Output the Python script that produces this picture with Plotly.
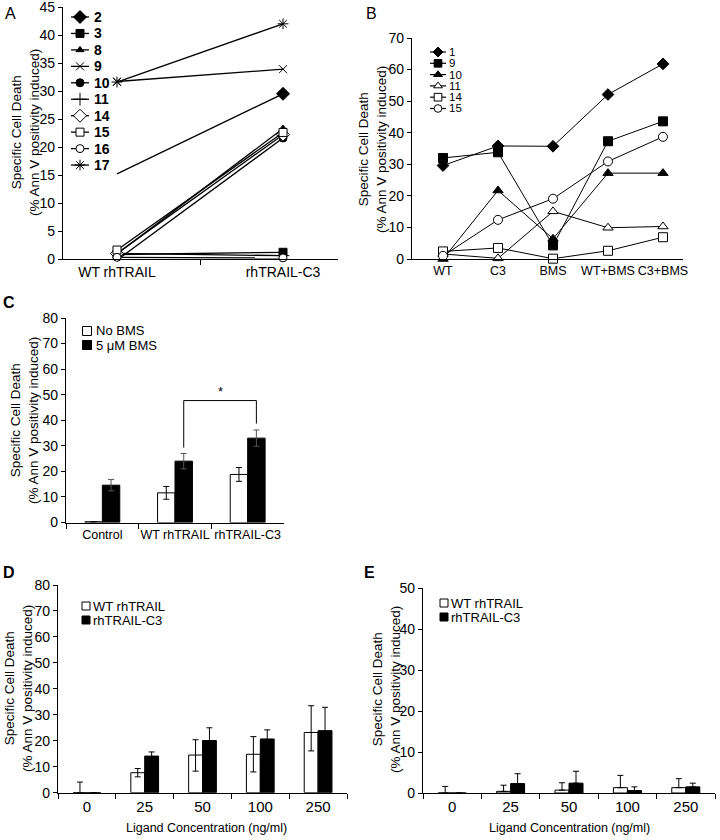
import plotly.graph_objects as go

FONT = "Liberation Sans, Arial, sans-serif"

# ---------------- Panel A data ----------------
a_categories = ["WT rhTRAIL", "rhTRAIL-C3"]
a_names = ["2", "3", "8", "9", "10", "11", "14", "15", "16", "17"]
a_2 = [15.2, 29.5]
a_3 = [0.8, 1.2]
a_8 = [0.9, 23.3]
a_9 = [31.7, 33.9]
a_10 = [-0.2, 21.6]
a_11 = [1.0, 0.6]
a_14 = [1.0, 22.2]
a_15 = [1.6, 22.6]
a_16 = [0.3, 0.2]
a_17 = [31.6, 42.0]
a_values = [a_2, a_3, a_8, a_9, a_10, a_11, a_14, a_15, a_16, a_17]

# ---------------- Panel B data ----------------
b_categories = ["WT", "C3", "BMS", "WT+BMS", "C3+BMS"]
b_names = ["1", "9", "10", "11", "14", "15"]
b_1 = [29.6, 35.8, 35.7, 52.1, 61.8]
b_9 = [32.0, 33.8, 4.3, 37.3, 43.6]
b_10 = [0.0, 21.7, 6.4, 27.2, 27.2]
b_11 = [1.6, 0.2, 15.1, 9.9, 10.3]
b_14 = [2.4, 3.5, 0.1, 2.6, 6.9]
b_15 = [1.0, 12.4, 19.1, 30.9, 38.7]
b_values = [b_1, b_9, b_10, b_11, b_14, b_15]

# ---------------- Panel C data ----------------
c_categories = ["Control", "WT rhTRAIL", "rhTRAIL-C3"]
c_series = ["No BMS", "5 μM BMS"]
c_no_bms = [0.3, 11.6, 18.8]
c_no_bms_err = [0.0, 2.5, 2.7]
c_bms = [14.6, 24.0, 33.0]
c_bms_err = [2.2, 3.0, 3.2]

# ---------------- Panel D data ----------------
d_categories = ["0", "25", "50", "100", "250"]
de_series = ["WT rhTRAIL", "rhTRAIL-C3"]
d_wt = [0.0, 7.7, 14.5, 14.8, 23.2]
d_wt_err_plus = [4.1, 1.6, 5.9, 6.8, 10.3]
d_wt_err_minus = [0.0, 1.6, 6.2, 6.8, 7.1]
d_c3 = [0.0, 14.1, 20.1, 20.7, 23.9]
d_c3_err = [0.0, 1.6, 4.9, 3.5, 9.0]

# ---------------- Panel E data ----------------
e_categories = ["0", "25", "50", "100", "250"]
e_wt = [0.0, 0.4, 0.7, 1.3, 1.3]
e_wt_err = [1.6, 1.5, 1.8, 3.0, 2.2]
e_c3 = [0.0, 2.3, 2.4, 0.6, 1.5]
e_c3_err = [0.0, 2.4, 2.9, 0.9, 0.9]

x_title = "Ligand Concentration (ng/ml)"

# ---------------- styles ----------------
a_styles = {
    "2": dict(symbol="diamond", color="black", size=10),
    "3": dict(symbol="square", color="black", size=8),
    "8": dict(symbol="triangle-up", color="black", size=7),
    "9": dict(symbol="x-thin", color="black", size=8),
    "10": dict(symbol="circle", color="black", size=8),
    "11": dict(symbol="cross-thin", color="black", size=9),
    "14": dict(symbol="diamond", color="white", size=10),
    "15": dict(symbol="square", color="white", size=8),
    "16": dict(symbol="circle", color="white", size=8),
    "17": dict(symbol="asterisk", color="black", size=9),
}
# series 2 has no visible marker at the first category
a_marker_hidden = {"2": [True, False]}
b_styles = {
    "1": dict(symbol="diamond", color="black", size=9),
    "9": dict(symbol="square", color="black", size=9),
    "10": dict(symbol="triangle-up", color="black", size=9),
    "11": dict(symbol="triangle-up", color="white", size=9),
    "14": dict(symbol="square", color="white", size=9),
    "15": dict(symbol="circle", color="white", size=9),
}

fig = go.Figure()

for name, vals in zip(a_names, a_values):
    st = a_styles[name]
    fill = st["color"]
    edge = "black"
    if name in a_marker_hidden:
        fill = ["rgba(0,0,0,0)" if h else st["color"] for h in a_marker_hidden[name]]
        edge = ["rgba(0,0,0,0)" if h else "black" for h in a_marker_hidden[name]]
    fig.add_trace(go.Scatter(
        x=a_categories, y=vals, name=name, mode="lines+markers",
        line=dict(color="black", width=1.3),
        marker=dict(symbol=st["symbol"], color=fill, size=st["size"],
                    line=dict(color=edge, width=1)),
        xaxis="x", yaxis="y", cliponaxis=False,
    ))

for name, vals in zip(b_names, b_values):
    st = b_styles[name]
    fig.add_trace(go.Scatter(
        x=b_categories, y=vals, name=name, mode="lines+markers",
        line=dict(color="black", width=1),
        marker=dict(symbol=st["symbol"], color=st["color"], size=st["size"],
                    line=dict(color="black", width=1)),
        xaxis="x2", yaxis="y2", cliponaxis=False,
    ))

# Panel C bars
fig.add_trace(go.Bar(
    x=c_categories, y=c_no_bms, name=c_series[0],
    marker=dict(color="white", line=dict(color="black", width=1)),
    error_y=dict(type="data", array=c_no_bms_err, color="black", thickness=1, width=3),
    xaxis="x3", yaxis="y3",
))
fig.add_trace(go.Bar(
    x=c_categories, y=c_bms, name=c_series[1],
    marker=dict(color="black", line=dict(color="black", width=1)),
    error_y=dict(type="data", array=c_bms_err, color="#555555", thickness=1, width=3),
    xaxis="x3", yaxis="y3",
))

# Panel D bars
fig.add_trace(go.Bar(
    x=d_categories, y=d_wt, name=de_series[0],
    marker=dict(color="white", line=dict(color="black", width=1)),
    error_y=dict(type="data", symmetric=False, array=d_wt_err_plus, arrayminus=d_wt_err_minus,
                 color="black", thickness=1, width=3),
    xaxis="x4", yaxis="y4", cliponaxis=False,
))
fig.add_trace(go.Bar(
    x=d_categories, y=d_c3, name=de_series[1],
    marker=dict(color="black", line=dict(color="black", width=1)),
    error_y=dict(type="data", array=d_c3_err, color="black", thickness=1, width=3),
    xaxis="x4", yaxis="y4", cliponaxis=False,
))

# Panel E bars
fig.add_trace(go.Bar(
    x=e_categories, y=e_wt, name=de_series[0],
    marker=dict(color="white", line=dict(color="black", width=1)),
    error_y=dict(type="data", symmetric=False, array=e_wt_err, arrayminus=[0] * len(e_wt_err),
                 color="black", thickness=1, width=3),
    xaxis="x5", yaxis="y5", cliponaxis=False,
))
fig.add_trace(go.Bar(
    x=e_categories, y=e_c3, name=de_series[1],
    marker=dict(color="black", line=dict(color="black", width=1)),
    error_y=dict(type="data", symmetric=False, array=e_c3_err, arrayminus=[0] * len(e_c3_err),
                 color="black", thickness=1, width=3),
    xaxis="x5", yaxis="y5", cliponaxis=False,
))

W, H = 720, 840


def px(x):
    return x / W


def py(y):
    return 1 - y / H


annotations = []

# ---------------- compact legends (drawn on a full-page pixel overlay axis) ----------------
def line_legend(names, styles, x0, x1, xtext, ytop, step, fsize, weight, lw, msize_scale=1.0):
    for i, name in enumerate(names):
        st = styles[name]
        yy = ytop + i * step
        fig.add_trace(go.Scatter(x=[x0, x1], y=[yy, yy], mode="lines",
                                 line=dict(color="black", width=lw), xaxis="x6", yaxis="y6",
                                 hoverinfo="skip", cliponaxis=False))
        fig.add_trace(go.Scatter(x=[(x0 + x1) / 2], y=[yy], mode="markers",
                                 marker=dict(symbol=st["symbol"], color=st["color"],
                                             size=st["size"] * msize_scale,
                                             line=dict(color="black", width=1)),
                                 xaxis="x6", yaxis="y6", hoverinfo="skip", cliponaxis=False))
        annotations.append(dict(text=name, x=px(xtext), y=py(yy), xref="paper", yref="paper",
                                xanchor="left", yanchor="middle", showarrow=False,
                                font=dict(family=FONT, size=fsize, color="black", weight=weight)))


def bar_legend(names, xsq, xtext, ytop, step, sqsize):
    fills = ["white", "black"]
    for i, name in enumerate(names):
        yy = ytop + i * step
        fig.add_trace(go.Scatter(x=[xsq], y=[yy], mode="markers",
                                 marker=dict(symbol="square", color=fills[i], size=sqsize,
                                             line=dict(color="black", width=1)),
                                 xaxis="x6", yaxis="y6", hoverinfo="skip", cliponaxis=False))
        annotations.append(dict(text=name, x=px(xtext), y=py(yy), xref="paper", yref="paper",
                                xanchor="left", yanchor="middle", showarrow=False,
                                font=dict(family=FONT, size=13, color="black")))


line_legend(a_names, a_styles, 71, 89, 92, 17, 16.45, 14, "bold", 1.3)
line_legend(b_names, b_styles, 430, 446, 447, 52, 11.3, 11.5, "normal", 1.2, 0.85)
bar_legend(c_series, 87, 94, 331, 14, 9)
bar_legend(de_series, 86, 91, 606, 14, 8)
bar_legend(de_series, 444, 449, 603, 14, 8)

tickfont = dict(family=FONT, size=14, color="black")
common_y = dict(showline=True, linecolor="black", linewidth=1.2, ticks="outside", ticklen=4,
                tickcolor="black", tickwidth=1, showgrid=False, zeroline=False,
                tickfont=tickfont, fixedrange=True, automargin=False,
                ticklabeloverflow="allow")
common_x = dict(showline=True, linecolor="black", linewidth=1.2, showgrid=False, zeroline=False,
                tickfont=tickfont, type="category", fixedrange=True, tickangle=0,
                automargin=False, ticklabeloverflow="allow")

fig.update_layout(
    width=W, height=H,
    margin=dict(l=0, r=0, t=0, b=0, pad=0),
    paper_bgcolor="white", plot_bgcolor="rgba(0,0,0,0)",
    font=dict(family=FONT, size=13, color="black"),
    barmode="group",
    bargap=0.52,
    showlegend=False,
    xaxis=dict(common_x, domain=[px(63), px(338)], anchor="y", range=[-0.325, 1.331],
               ticks="outside", tickson="boundaries", ticklen=5, tickcolor="black"),
    yaxis=dict(common_y, domain=[py(259), py(7)], anchor="x", range=[0, 45], dtick=5),
    xaxis2=dict(common_x, domain=[px(412), px(683)], anchor="y2", range=[-0.564, 4.364], ticks="",
                tickfont=dict(family=FONT, size=12.5, color="black")),
    yaxis2=dict(common_y, domain=[py(259), py(38)], anchor="x2", range=[0, 70], dtick=10),
    xaxis3=dict(common_x, domain=[px(66), px(284)], anchor="y3",
                ticks="outside", tickson="boundaries", ticklen=5, tickcolor="black",
                tickfont=dict(family=FONT, size=12.5, color="black")),
    yaxis3=dict(common_y, domain=[py(522.5), py(318)], anchor="x3", range=[0, 80], dtick=10),
    xaxis4=dict(common_x, domain=[px(58), px(347)], anchor="y4",
                ticks="outside", tickson="boundaries", ticklen=5, tickcolor="black",
                tickfont=dict(family=FONT, size=15, color="black")),
    yaxis4=dict(common_y, domain=[py(792.7), py(585)], anchor="x4", range=[0, 80], dtick=10),
    xaxis5=dict(common_x, domain=[px(423), px(715)], anchor="y5",
                ticks="outside", tickson="boundaries", ticklen=5, tickcolor="black",
                tickfont=dict(family=FONT, size=15, color="black")),
    yaxis5=dict(common_y, domain=[py(793), py(588)], anchor="x5", range=[0, 50], dtick=10),
    xaxis6=dict(domain=[0, 1], range=[0, W], visible=False, fixedrange=True, anchor="y6",
                automargin=False),
    yaxis6=dict(domain=[0, 1], range=[H, 0], visible=False, fixedrange=True, anchor="x6",
                automargin=False),
)

# x-axis titles of D and E
for cx in (206, 569):
    annotations.append(dict(text=x_title, x=px(cx), y=py(828), xref="paper", yref="paper",
                            showarrow=False, xanchor="center", yanchor="middle",
                            font=dict(family=FONT, size=12.5, color="black")))

# y-axis titles and panel letters
ytitle = "Specific Cell Death<br>(% Ann V positivity induced)"
for cx, cy in [(25, 133), (372, 150), (24, 421), (18, 689), (386, 690)]:
    annotations.append(dict(text=ytitle, x=px(cx), y=py(cy), xref="paper", yref="paper",
                            textangle=-90, showarrow=False, xanchor="center", yanchor="middle",
                            font=dict(family=FONT, size=13.5, color="black")))
for letter, lx, ly, bold in [("A", 3, 3, "normal"), ("B", 364, 3, "normal"), ("C", 1, 292, "bold"),
                             ("D", 1, 562, "bold"), ("E", 362, 562, "bold")]:
    annotations.append(dict(text=letter, x=px(lx), y=py(ly), xref="paper", yref="paper",
                            showarrow=False, xanchor="left", yanchor="top",
                            font=dict(family=FONT, size=16, color="black", weight=bold)))

# significance bracket in C between WT and C3 (black bars)
bar_w = (1 - 0.52) / 2
x_left = 1 + bar_w / 2
x_right = 2 + bar_w / 2
top = 47.7
left_bottom = c_bms[1] + c_bms_err[1] + 2.3
right_bottom = c_bms[2] + c_bms_err[2] + 2.5
shapes = [
    dict(type="line", xref="x3", yref="y3", x0=x_left, x1=x_left, y0=left_bottom, y1=top,
         line=dict(color="black", width=1)),
    dict(type="line", xref="x3", yref="y3", x0=x_left, x1=x_right, y0=top, y1=top,
         line=dict(color="black", width=1)),
    dict(type="line", xref="x3", yref="y3", x0=x_right, x1=x_right, y0=right_bottom, y1=top,
         line=dict(color="black", width=1)),
]
annotations.append(dict(text="*", x=(x_left + x_right) / 2, y=top, xref="x3", yref="y3",
                        showarrow=False, yanchor="bottom", font=dict(family=FONT, size=13)))

fig.update_layout(annotations=annotations, shapes=shapes)

# remove the default page margin so the figure sits at the window's top-left corner
fig.write_html("out.html", config={"displayModeBar": False},
               post_script="document.body.style.margin='0px';document.body.style.overflow='hidden';")
